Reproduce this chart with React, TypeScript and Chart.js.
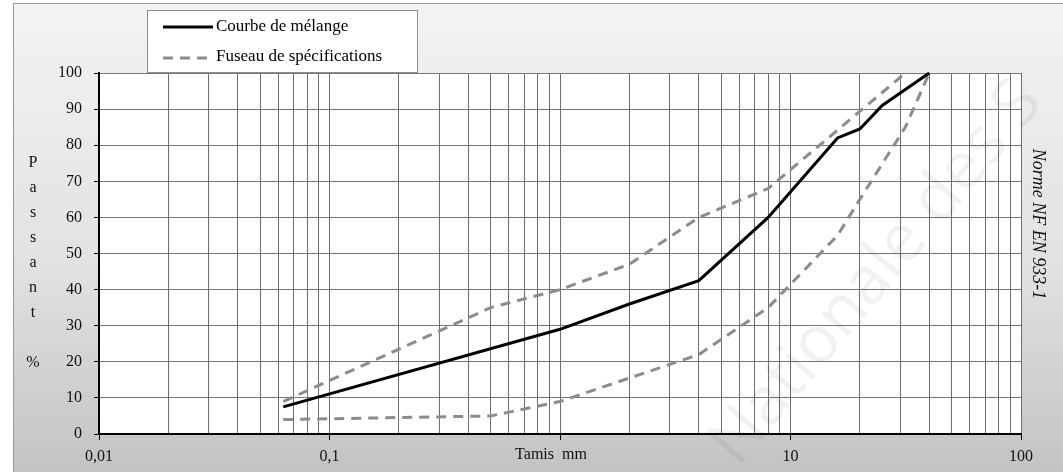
import { useEffect, useRef } from 'react';
import { Chart, registerables } from 'chart.js';

Chart.register(...registerables);

// Sieve sizes (mm) and passing (%)
const melangeSieves = [0.063, 1, 2, 4, 8, 16, 20, 25, 40];
const melangePassing = [7.5, 29, 36, 42.5, 60, 82, 84.5, 91, 100];

const upperSieves = [0.063, 0.5, 1, 2, 4, 8, 31.5];
const upperPassing = [9, 35, 40, 47, 60, 68, 100];

const lowerSieves = [0.063, 0.5, 1, 2, 4, 8, 16, 20, 31.5, 40];
const lowerPassing = [4, 5, 9, 15.5, 22, 35, 55, 65, 85, 100];

const xDecades = [0.01, 0.1, 1, 10];
const xMultipliers = [1, 2, 3, 4, 5, 6, 7, 8, 9];
const xLabelValues = [0.01, 0.1, 10, 100];
const xLabelTexts = ['0,01', '0,1', '10', '100'];

const yTitleLetters = ['P', 'a', 's', 's', 'a', 'n', 't', '', '%'];

const SERIF = '"Liberation Serif", "Times New Roman", serif';

const xGridValues: number[] = [];
xDecades.forEach((d) => xMultipliers.forEach((m) => xGridValues.push(+(m * d).toPrecision(3))));
xGridValues.push(100);

const isDecade = (v: number) => {
  if (!v || v <= 0) return false;
  const l = Math.log10(v);
  return Math.abs(l - Math.round(l)) < 1e-6;
};

const xLabel = (v: number) => {
  for (let i = 0; i < xLabelValues.length; i++) {
    if (Math.abs(Math.log10(v) - Math.log10(xLabelValues[i])) < 1e-6) return xLabelTexts[i];
  }
  return '';
};

const toPoints = (xs: number[], ys: number[]) => xs.map((x, i) => ({ x, y: ys[i] }));

export default function App() {
  const ref = useRef<HTMLCanvasElement>(null);

  useEffect(() => {
    document.body.style.margin = '0';
    const canvas = ref.current;
    if (!canvas) return;

    const decor = {
      id: 'decor',
      beforeDraw(chart: any) {
        const ctx = chart.ctx;
        const a = chart.chartArea;
        ctx.save();
        ctx.fillStyle = '#ffffff';
        ctx.fillRect(0, 0, chart.width, chart.height);
        const g = ctx.createLinearGradient(0, 3, 0, chart.height);
        g.addColorStop(0, '#f3f3f3');
        g.addColorStop(0.55, '#e2e2e2');
        g.addColorStop(1, '#c3c3c3');
        ctx.fillStyle = g;
        ctx.fillRect(13.5, 3.5, chart.width, chart.height);
        ctx.strokeStyle = '#9a9a9a';
        ctx.lineWidth = 1;
        ctx.strokeRect(13.5, 3.5, chart.width, chart.height);
        ctx.fillStyle = '#ffffff';
        ctx.fillRect(a.left, a.top, a.right - a.left, a.bottom - a.top);
        ctx.restore();
      },
      afterDraw(chart: any) {
        const ctx = chart.ctx;
        ctx.save();

        // watermark
        ctx.save();
        ctx.translate(738, 468);
        ctx.rotate((-50 * Math.PI) / 180);
        ctx.font = '66px "Open Sans", sans-serif';
        ctx.fillStyle = 'rgba(0,0,0,0.055)';
        ctx.textBaseline = 'alphabetic';
        ctx.textAlign = 'left';
        ctx.fillText('Nationale des S', 0, 0);
        ctx.restore();

        // legend box
        ctx.fillStyle = '#ffffff';
        ctx.fillRect(147.5, 10.5, 270, 62);
        ctx.strokeStyle = '#8c8c8c';
        ctx.lineWidth = 1;
        ctx.strokeRect(147.5, 10.5, 270, 62);

        ctx.strokeStyle = '#000000';
        ctx.lineWidth = 3;
        ctx.setLineDash([]);
        ctx.beginPath();
        ctx.moveTo(163, 27);
        ctx.lineTo(213, 27);
        ctx.stroke();

        ctx.strokeStyle = '#8c8c8c';
        ctx.setLineDash([10, 7]);
        ctx.beginPath();
        ctx.moveTo(163, 58);
        ctx.lineTo(213, 58);
        ctx.stroke();
        ctx.setLineDash([]);

        ctx.fillStyle = '#000000';
        ctx.font = `17px ${SERIF}`;
        ctx.textBaseline = 'middle';
        ctx.textAlign = 'left';
        ctx.fillText('Courbe de mélange', 216, 27);
        ctx.fillText('Fuseau de spécifications', 216, 57);

        // y title stacked letters
        ctx.font = `16px ${SERIF}`;
        ctx.textAlign = 'center';
        ctx.fillStyle = '#111111';
        yTitleLetters.forEach((ch, i) => {
          if (ch) ctx.fillText(ch, 33, 163 + 25 * i);
        });

        // x title
        ctx.font = `16px ${SERIF}`;
        ctx.textAlign = 'center';
        ctx.textBaseline = 'middle';
        ctx.fillText('Tamis  mm', 551, 455);

        // right rotated text
        ctx.save();
        ctx.translate(1038, 224);
        ctx.rotate(Math.PI / 2);
        ctx.font = `italic 18px ${SERIF}`;
        ctx.textAlign = 'center';
        ctx.textBaseline = 'middle';
        ctx.fillStyle = '#111111';
        ctx.fillText('Norme NF EN 933-1', 0, 0);
        ctx.restore();

        ctx.restore();
      },
    };

    const chart = new Chart(canvas, {
      type: 'line',
      data: {
        datasets: [
          {
            label: 'Courbe de mélange',
            data: toPoints(melangeSieves, melangePassing),
            borderColor: '#000000',
            borderWidth: 3,
            pointRadius: 0,
            tension: 0,
            clip: false as any,
            order: 0,
          },
          {
            label: 'Fuseau de spécifications',
            data: toPoints(upperSieves, upperPassing),
            borderColor: '#8c8c8c',
            borderWidth: 3,
            borderDash: [10, 7],
            pointRadius: 0,
            tension: 0,
            clip: false as any,
            order: 1,
          },
          {
            label: 'Fuseau inférieur',
            data: toPoints(lowerSieves, lowerPassing),
            borderColor: '#8c8c8c',
            borderWidth: 3,
            borderDash: [10, 7],
            pointRadius: 0,
            tension: 0,
            clip: false as any,
            order: 1,
          },
        ],
      },
      options: {
        responsive: false,
        animation: false,
        layout: { padding: { top: 73, right: 42, left: 0, bottom: 0 } },
        plugins: {
          legend: { display: false },
          tooltip: { enabled: false },
        },
        scales: {
          x: {
            type: 'logarithmic',
            min: 0.01,
            max: 100,
            afterBuildTicks: (s: any) => {
              s.ticks = xGridValues.map((v) => ({ value: v }));
            },
            afterFit: (s: any) => {
              s.height = 38;
            },
            ticks: {
              autoSkip: false,
              maxRotation: 0,
              minRotation: 0,
              padding: 7,
              color: '#111111',
              font: { family: SERIF, size: 16 },
              callback: (v: any) => xLabel(Number(v)),
            },
            grid: {
              color: '#6e6e6e',
              lineWidth: 1,
              tickLength: 6,
              tickColor: (c: any) => (c.tick && isDecade(c.tick.value) ? '#000000' : 'rgba(0,0,0,0)'),
            },
            border: { color: '#000000', width: 2 },
          },
          y: {
            min: 0,
            max: 100,
            afterFit: (s: any) => {
              s.width = 99;
            },
            ticks: {
              stepSize: 10,
              padding: 12,
              color: '#111111',
              font: { family: SERIF, size: 16 },
            },
            grid: {
              color: '#767676',
              lineWidth: 1,
              tickLength: 5,
              tickColor: '#000000',
            },
            border: { color: '#000000', width: 2 },
          },
        },
      },
      plugins: [decor],
    } as any);

    return () => chart.destroy();
  }, []);

  return (
    <div style={{ position: 'absolute', left: 0, top: 0, width: 1063, height: 472 }}>
      <canvas ref={ref} width={1063} height={472} style={{ display: 'block', width: 1063, height: 472 }} />
    </div>
  );
}
